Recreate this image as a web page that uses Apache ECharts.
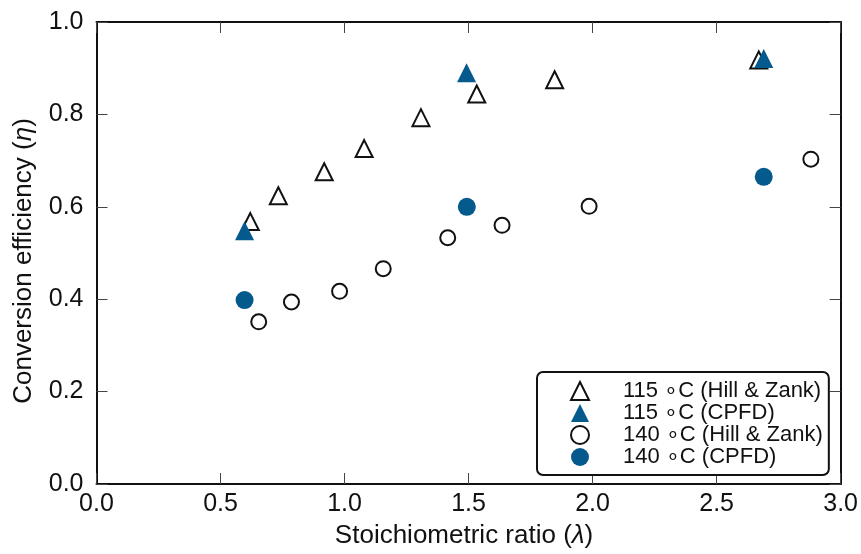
<!DOCTYPE html>
<html>
<head>
<meta charset="utf-8">
<script src="https://cdn.jsdelivr.net/npm/echarts@6/dist/echarts.min.js"></script>
<style>
  html, body { margin: 0; padding: 0; background: #fff; }
  #chart { width: 861px; height: 554px; }
</style>
</head>
<body>
<div id="chart"></div>
<script>
// [lambda, eta]
const hz115 = [[0.62, 0.568], [0.733, 0.624], [0.918, 0.676], [1.079, 0.726],
               [1.308, 0.793], [1.533, 0.844], [1.847, 0.875], [2.67, 0.918]];
const cpfd115 = [[0.597, 0.548], [1.492, 0.89], [2.69, 0.921]];
const hz140 = [[0.654, 0.351], [0.786, 0.394], [0.98, 0.417], [1.156, 0.466],
               [1.416, 0.533], [1.635, 0.56], [1.986, 0.601], [2.88, 0.703]];
const cpfd140 = [[0.597, 0.398], [1.493, 0.6], [2.69, 0.665]];

const seriesNames = ["115 ∘C (Hill & Zank)", "115 ∘C (CPFD)", "140 ∘C (Hill & Zank)", "140 ∘C (CPFD)"];
const blue = "#045a8d";
const ink = "#111";
const font = "Liberation Sans";

const xTicks = { min: 0, max: 3, interval: 0.5 };
const yTicks = { min: 0, max: 1, interval: 0.2 };

function axis(extra, ticks, showLabel) {
  return Object.assign({
    type: "value",
    min: ticks.min, max: ticks.max, interval: ticks.interval,
    axisLine: { show: true, onZero: false, lineStyle: { color: ink, width: 2 } },
    axisTick: { show: true, inside: true, length: 11, lineStyle: { color: "#444", width: 1 } },
    splitLine: { show: false },
    axisLabel: { show: showLabel }
  }, extra);
}

const tickLabel = (margin) => ({
  show: true, margin: margin, fontFamily: font, fontSize: 25, color: ink,
  formatter: (v) => v.toFixed(1)
});
const nameStyle = (pad) => ({
  fontFamily: font, fontSize: 26, color: ink, padding: pad,
  rich: { i: { fontFamily: font, fontSize: 26, fontStyle: "italic", color: ink } }
});

const option = {
  animation: false,
  backgroundColor: "#fff",
  grid: { left: 96.5, right: 17.5, top: 22, bottom: 69, containLabel: false },
  xAxis: [
    axis({
      position: "bottom",
      name: "Stoichiometric ratio ({i|λ})",
      nameLocation: "middle", nameGap: 39,
      nameTextStyle: nameStyle([0, 9, 0, 0]),
      axisLabel: tickLabel(8)
    }, xTicks, true),
    axis({ position: "top" }, xTicks, false)
  ],
  yAxis: [
    axis({
      position: "left",
      name: "Conversion efficiency ({i|η})",
      nameLocation: "middle", nameGap: 60,
      nameTextStyle: nameStyle([0, 16, 0, 0]),
      axisLabel: tickLabel(13)
    }, yTicks, true),
    axis({ position: "right" }, yTicks, false)
  ],
  legend: {
    orient: "vertical",
    left: 537, top: 372,
    padding: [8, 6, 7, 33],
    itemWidth: 18, itemHeight: 18, itemGap: 0,
    borderColor: ink, borderWidth: 2, borderRadius: 6,
    backgroundColor: "#fff",
    selectedMode: false,
    data: seriesNames,
    textStyle: { fontFamily: font, fontSize: 22, color: ink, padding: [0, 0, 0, 29] }
  },
  series: [
    { name: seriesNames[0], type: "scatter", data: hz115, symbol: "triangle", symbolSize: 17,
      itemStyle: { color: "#fff", borderColor: ink, borderWidth: 2, opacity: 1 } },
    { name: seriesNames[1], type: "scatter", data: cpfd115, symbol: "triangle", symbolSize: 19,
      itemStyle: { color: blue, opacity: 1 } },
    { name: seriesNames[2], type: "scatter", data: hz140, symbol: "circle", symbolSize: 15,
      itemStyle: { color: "#fff", borderColor: ink, borderWidth: 2, opacity: 1 } },
    { name: seriesNames[3], type: "scatter", data: cpfd140, symbol: "circle", symbolSize: 18,
      itemStyle: { color: blue, opacity: 1 } }
  ]
};

const chart = echarts.init(document.getElementById("chart"));
chart.setOption(option);
window.addEventListener("resize", () => chart.resize());
</script>
</body>
</html>
